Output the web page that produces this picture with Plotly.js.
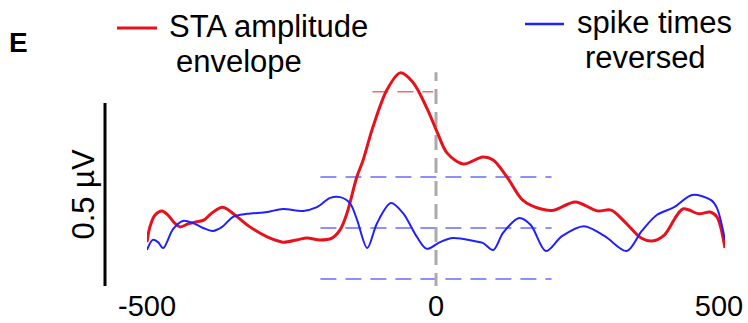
<!DOCTYPE html>
<html>
<head>
<meta charset="utf-8">
<script src="https://cdn.plot.ly/plotly-3.0.1.min.js"></script>
<style>html,body{margin:0;padding:0;background:#fff;}#chart{width:748px;height:323px;}</style>
</head>
<body>
<div id="chart"></div>
<script>
// Time axis in ms, amplitude in µV (relative)
const redT = [-500,-495,-486,-474,-464,-452,-443,-429,-415,-401,-388,-369,-344,-322,-292,-265,-241,-223,-201,-180,-166,-154,-137,-126,-109,-85,-62,-40,-16,2,19,47,81,99,123,150,182,204,241,279,303,327,355,374,395,427,455,474,486,500];
const redV = [-0.038,0.003,0.035,0.046,0.035,0.013,0.003,0.011,0.016,0.022,0.040,0.056,0.030,0.003,-0.024,-0.038,-0.032,-0.027,-0.032,-0.027,-0.005,0.040,0.137,0.183,0.272,0.371,0.417,0.392,0.323,0.258,0.202,0.172,0.191,0.183,0.137,0.075,0.051,0.048,0.070,0.046,0.048,0.016,-0.027,-0.035,-0.019,0.051,0.038,0.043,0.030,-0.054];

const blueT = [-500,-490,-481,-472,-455,-438,-420,-403,-386,-370,-351,-327,-292,-265,-230,-206,-183,-166,-149,-137,-119,-102,-78,-57,-33,-16,7,29,66,81,99,116,144,164,190,218,256,292,330,356,382,412,443,476,486,500];
const blueV = [-0.059,-0.032,-0.038,-0.054,-0.003,0.019,0.013,0.000,-0.008,0.003,0.030,0.038,0.043,0.051,0.046,0.056,0.081,0.083,0.067,0.024,-0.054,0.013,0.067,0.040,-0.024,-0.056,-0.038,-0.027,-0.035,-0.040,-0.059,-0.013,0.027,0.008,-0.062,-0.022,0.005,-0.022,-0.062,-0.008,0.035,0.056,0.089,0.075,0.054,-0.032];

const xTickVals = [-500, 0];
const xTickText = ['-500', '0'];
const xTickValsEnd = [500];
const xTickTextEnd = ['500'];

const blueRefLevels = [0.137, 0.000, -0.137];
const blueRefSpan = [-200, 200];
const redRefLevel = 0.366;
const redRefSpan = [-110, -5];
const zeroLineSpan = [-0.161, 0.419];
const scaleBar = [-0.164, 0.336]; // 0.5 µV
const labels = {red: 'STA amplitude', red2: 'envelope', blue: 'spike times', blue2: 'reversed', panel: 'E', scale: '0.5 \u00B5V'};

const FONT = 'Liberation Sans, Arial, Helvetica, sans-serif';
const RED = '#e8101a';
const BLUE = '#1f1fff';

// paper coordinate helpers based on the plot box
const W = 748, H = 323, L = 147, R = 23, T = 10, B = 37;
const pw = W - L - R, ph = H - T - B;
const px = x => (x - L) / pw;
const py = y => (H - B - y) / ph;

const traces = [
  {x: redT, y: redV, type: 'scatter', mode: 'lines', line: {color: RED, width: 3, shape: 'spline', smoothing: 0.9}, hoverinfo: 'skip', showlegend: false},
  {x: blueT, y: blueV, xaxis: 'x2', type: 'scatter', mode: 'lines', line: {color: BLUE, width: 2, shape: 'spline', smoothing: 0.9}, hoverinfo: 'skip', showlegend: false}
];

const shapes = [];
blueRefLevels.forEach(v => shapes.push({type: 'line', xref: 'x', yref: 'y', x0: blueRefSpan[0], x1: blueRefSpan[1], y0: v, y1: v, line: {color: '#6a6aff', width: 1.5, dash: '16px,9px'}, layer: 'below'}));
shapes.push({type: 'line', xref: 'x', yref: 'y', x0: redRefSpan[0], x1: redRefSpan[1], y0: redRefLevel, y1: redRefLevel, line: {color: '#f26a6a', width: 1.5, dash: '16px,9px'}, layer: 'below'});
shapes.push({type: 'line', xref: 'x', yref: 'y', x0: 0, x1: 0, y0: zeroLineSpan[0], y1: zeroLineSpan[1], line: {color: '#aaaaaa', width: 3, dash: '15px,8px'}, layer: 'below'});
shapes.push({type: 'line', xref: 'paper', yref: 'y', x0: px(105), x1: px(105), y0: scaleBar[0], y1: scaleBar[1], line: {color: '#000', width: 3}});
// legend keys
shapes.push({type: 'line', xref: 'paper', yref: 'paper', x0: px(117), x1: px(157), y0: py(28), y1: py(28), line: {color: RED, width: 3}});
shapes.push({type: 'line', xref: 'paper', yref: 'paper', x0: px(525), x1: px(564), y0: py(24), y1: py(24), line: {color: BLUE, width: 2.5}});

const ann = (text, x, y, size, opts) => Object.assign({text, xref: 'paper', yref: 'paper', x: px(x), y: py(y), xanchor: 'left', yanchor: 'middle', showarrow: false, font: {family: FONT, size, color: '#000'}}, opts || {});
const annotations = [
  ann(labels.red, 167, 26.2, 31),
  ann(labels.red2, 174, 61.2, 31),
  ann(labels.blue, 575, 22.2, 31),
  ann(labels.blue2, 583, 57.2, 31),
  ann('<b>' + labels.panel + '</b>', 7, 42.3, 28),
  ann(labels.scale, 82.6, 194, 31, {xanchor: 'center', textangle: -90})
];

const axisBase = {range: [-500, 500], showgrid: false, zeroline: false, showline: false, ticks: '', tickfont: {family: FONT, size: 29, color: '#000'}, fixedrange: true};

const layout = {
  width: W, height: H,
  margin: {l: L, r: R, t: T, b: B, pad: 0},
  paper_bgcolor: '#fff', plot_bgcolor: '#fff',
  showlegend: false,
  font: {family: FONT, size: 29, color: '#000'},
  xaxis: Object.assign({}, axisBase, {tickvals: xTickVals, ticktext: xTickText}),
  xaxis2: Object.assign({}, axisBase, {overlaying: 'x', matches: 'x', side: 'bottom', tickvals: xTickValsEnd, ticktext: xTickTextEnd, ticklabelshift: -6, ticklabeloverflow: 'allow'}),
  yaxis: {range: [(228 - (H - B)) / 372, (228 - T) / 372], visible: false, fixedrange: true},
  shapes, annotations
};

Plotly.newPlot('chart', traces, layout, {staticPlot: true, displayModeBar: false});
</script>
</body>
</html>
